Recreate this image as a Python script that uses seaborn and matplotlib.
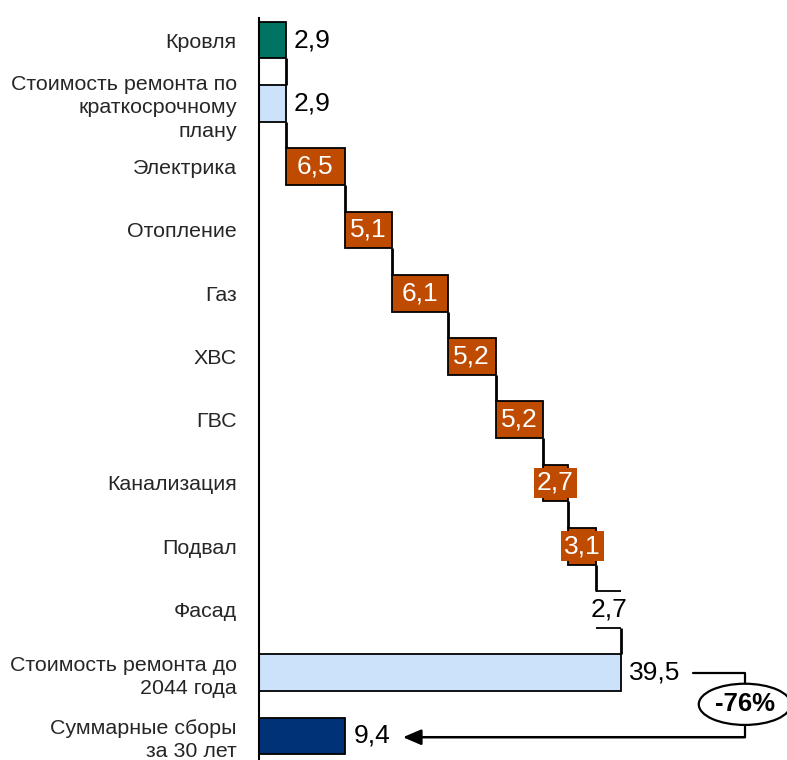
"""
Waterfall: repair costs vs. collected contributions.
"""

import numpy as np
import pandas as pd
import matplotlib
matplotlib.use("Agg")
import matplotlib.pyplot as plt
import seaborn as sns

# data
categories = [
    "Кровля",
    "Стоимость ремонта по\nкраткосрочному\nплану",
    "Электрика",
    "Отопление",
    "Газ",
    "ХВС",
    "ГВС",
    "Канализация",
    "Подвал",
    "Фасад",
    "Стоимость ремонта до\n2044 года",
    "Суммарные сборы\nза 30 лет",
]
values = [2.9, 2.9, 6.5, 5.1, 6.1, 5.2, 5.2, 2.7, 3.1, 2.7, 39.5, 9.4]
value_labels = ["2,9", "2,9", "6,5", "5,1", "6,1", "5,2", "5,2", "2,7", "3,1", "2,7", "39,5", "9,4"]
# kind of bar: total bars start at zero, step bars continue the running sum
kinds = ["total", "total", "step", "step", "step", "step", "step", "step", "step",
         "hidden", "total", "total"]
change_label = "-76%"

TEAL = "#007362"
LIGHT = "#cce2fb"
ORANGE = "#bf4b00"
NAVY = "#003278"
bar_colors = [TEAL, LIGHT, ORANGE, ORANGE, ORANGE, ORANGE, ORANGE, ORANGE, ORANGE,
              "white", LIGHT, NAVY]

# running offsets for the waterfall
lefts = []
running = values[1]
for v, k in zip(values, kinds):
    if k == "total":
        lefts.append(0.0)
    else:
        lefts.append(running)
        running += v
ends = [l + v for l, v in zip(lefts, values)]

df = pd.DataFrame({"category": categories, "value": values})

sns.set_style("white")
plt.rcParams["font.family"] = ["Liberation Sans", "DejaVu Sans"]

fig = plt.figure(figsize=(7.87, 7.6), dpi=100)
ax = fig.add_axes([259 / 787, 0.0, 1 - 259 / 787, 1 - 18 / 760])

BAR_H = 0.58
sns.barplot(
    data=df, x="value", y="category", orient="h", order=categories,
    width=BAR_H, left=lefts, color="white", saturation=1, ax=ax,
    edgecolor="black", linewidth=1.3,
)
for patch, col, kind in zip(ax.patches, bar_colors, kinds):
    patch.set_facecolor(col)
    if kind == "hidden":
        patch.set_edgecolor("none")

ax.set_xlim(0, 57.6)
ax.set_ylim(11.38, -0.35)
ax.set_xlabel("")
ax.set_ylabel("")
ax.set_xticks([])
ax.tick_params(axis="y", length=0, pad=16, labelsize=15.4)
for lbl in ax.get_yticklabels():
    lbl.set_multialignment("right")
    lbl.set_linespacing(1.3)
for side in ["top", "right", "bottom"]:
    ax.spines[side].set_visible(False)
ax.spines["left"].set_color("black")
ax.spines["left"].set_linewidth(1.5)

# hidden bar: only top and bottom lines
for i, kind in enumerate(kinds):
    if kind == "hidden":
        ax.hlines([i - BAR_H / 2, i + BAR_H / 2], lefts[i], ends[i], color="black", lw=1.3)

# connectors between consecutive bars
for i in range(len(values) - 2):
    ax.vlines(ends[i], i + BAR_H / 2, i + 1 - BAR_H / 2, color="black", lw=2)

# value labels
for i, (kind, txt) in enumerate(zip(kinds, value_labels)):
    if kind == "step":
        ax.text((lefts[i] + ends[i]) / 2, i, txt, ha="center", va="center",
                color="white", fontsize=19,
                bbox=dict(boxstyle="square,pad=0.12", fc=ORANGE, ec="none"))
    elif kind == "hidden":
        ax.text((lefts[i] + ends[i]) / 2, i, txt, ha="center", va="center",
                color="black", fontsize=19)
    else:
        ax.text(ends[i] + 0.9, i, txt, ha="left", va="center",
                color="black", fontsize=19)

# change bracket with ellipse
i_tot, i_sum = 10, 11
x_br = 53.0
ax.plot([47.3, x_br, x_br], [i_tot, i_tot, i_tot + 0.18], color="black", lw=1.6)
ax.annotate("", xy=(15.7, i_sum + 0.02), xytext=(x_br, i_sum + 0.02),
            arrowprops=dict(arrowstyle="-|>,head_length=1.1,head_width=0.47",
                            color="black", lw=1.8, shrinkA=0, shrinkB=0))
ax.plot([x_br, x_br], [i_tot + 0.8, i_sum + 0.02], color="black", lw=1.6)
ax.text(x_br, i_tot + 0.5, change_label, ha="center", va="center",
        fontsize=18.5, fontweight="bold", color="black",
        bbox=dict(boxstyle="ellipse,pad=0.1", fc="white", ec="black", lw=1.6))

fig.savefig("out.png", dpi=100)
